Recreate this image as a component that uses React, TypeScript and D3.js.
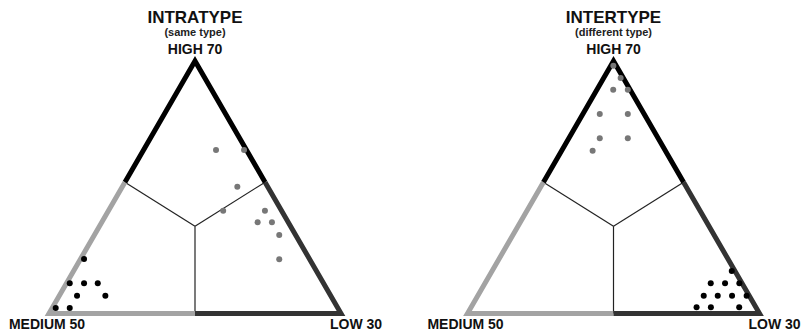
import React from 'react';
import * as d3 from 'd3';

// Panel titles and vertex labels
const panelTitles = ['INTRATYPE', 'INTERTYPE'];
const panelSubtitles = ['(same type)', '(different type)'];
const vertexLabels = ['HIGH 70', 'MEDIUM 50', 'LOW 30'];

// Ternary compositions as [high, medium, low] percentages
const intraGray: number[][] = [
  [64.8, 10.4, 24.8],
  [64.8, 0.8, 34.4],
  [50.2, 10.4, 39.4],
  [40.7, 20.0, 39.3],
  [40.7, 5.7, 53.6],
  [36.1, 10.5, 53.4],
  [36.1, 5.6, 58.3],
  [31.1, 5.6, 63.3],
  [21.5, 10.4, 68.1],
];
const intraBlack: number[][] = [
  [21.6, 77.2, 1.2],
  [12.0, 86.9, 1.1],
  [12.0, 82.0, 6.0],
  [12.0, 77.3, 10.7],
  [7.0, 86.9, 6.1],
  [7.0, 77.2, 15.8],
  [2.2, 96.6, 1.2],
  [2.2, 91.8, 6.0],
];
const interGray: number[][] = [
  [98.1, 1.0, 0.9],
  [93.3, 0.9, 5.8],
  [88.6, 5.8, 5.6],
  [88.6, 0.8, 10.6],
  [79.0, 15.2, 5.8],
  [79.0, 5.6, 15.4],
  [69.4, 20.0, 10.6],
  [69.4, 10.4, 20.2],
  [64.5, 24.9, 10.6],
];
const interBlack: number[][] = [
  [16.8, 1.1, 82.1],
  [12.0, 10.7, 77.3],
  [12.0, 5.8, 82.2],
  [12.0, 0.9, 87.1],
  [7.0, 15.6, 77.4],
  [7.0, 10.8, 82.2],
  [7.0, 5.9, 87.1],
  [7.0, 0.9, 92.1],
  [2.5, 20.3, 77.2],
  [2.5, 15.4, 82.1],
  [2.5, 5.7, 91.8],
];

// Region boundaries: meeting point and edge junctions [high, medium, low]
const centerPoint = [34.6, 32.7, 32.7];
const edgeJunctions = [
  [52, 48, 0],
  [0, 50, 50],
  [52, 0, 48],
];

const W = 802;
const H = 334;
const panelCenters = [195, 613.5];
const halfWidth = 146;
const baseY = 313.5;
const apexY = 61;

const HIGH_COLOR = '#000000';
const MED_COLOR = '#a3a3a3';
const LOW_COLOR = '#333333';

function Panel({ idx, gray, black }: { idx: number; gray: number[][]; black: number[][] }) {
  const cx = panelCenters[idx];
  const x = d3.scaleLinear().domain([0, 100]).range([cx - halfWidth, cx + halfWidth]);
  const y = d3.scaleLinear().domain([0, 100]).range([baseY, apexY]);
  const proj = (p: number[]): [number, number] => [x(p[2] + p[0] / 2), y(p[0])];
  const line = d3.line();

  const apex = proj([100, 0, 0]);
  const med = proj([0, 100, 0]);
  const low = proj([0, 0, 100]);
  const [jLeft, jBottom, jRight] = edgeJunctions.map(proj);
  const c = proj(centerPoint);

  const font = 'Liberation Sans, Arial, Helvetica, sans-serif';

  return (
    <g>
      <text x={cx} y={22.5} textAnchor="middle" fontFamily={font} fontWeight="bold" fontSize={17} fill="#111">
        {panelTitles[idx]}
      </text>
      <text x={cx} y={35.5} textAnchor="middle" fontFamily={font} fontWeight="bold" fontSize={11} fill="#222">
        {panelSubtitles[idx]}
      </text>
      <text x={cx} y={53.5} textAnchor="middle" fontFamily={font} fontWeight="bold" fontSize={14} fill="#111">
        {vertexLabels[0]}
      </text>
      <text x={med[0] - 2} y={328.5} textAnchor="middle" fontFamily={font} fontWeight="bold" fontSize={14} fill="#111">
        {vertexLabels[1]}
      </text>
      <text x={low[0] - 11} y={328.5} textAnchor="start" fontFamily={font} fontWeight="bold" fontSize={14} fill="#111">
        {vertexLabels[2]}
      </text>

      {/* inner region boundaries */}
      {[jLeft, jBottom, jRight].map((j, i) => (
        <path key={i} d={line([c, j]) || ''} stroke="#222" strokeWidth={1.2} fill="none" />
      ))}

      {/* triangle edges by region */}
      <path d={line([jLeft, apex, jRight]) || ''} stroke={HIGH_COLOR} strokeWidth={5} fill="none" strokeLinejoin="miter" />
      <path d={line([jLeft, med, jBottom]) || ''} stroke={MED_COLOR} strokeWidth={5} fill="none" strokeLinejoin="miter" />
      <path d={line([jBottom, low, jRight]) || ''} stroke={LOW_COLOR} strokeWidth={5} fill="none" strokeLinejoin="miter" />

      {gray.map((p, i) => {
        const [px, py] = proj(p);
        return <circle key={'g' + i} cx={px} cy={py} r={3} fill="#777" />;
      })}
      {black.map((p, i) => {
        const [px, py] = proj(p);
        return <circle key={'b' + i} cx={px} cy={py} r={3} fill="#000" />;
      })}
    </g>
  );
}

export default function App() {
  return (
    <svg width={W} height={H} style={{ position: 'absolute', left: 0, top: 0, background: '#fff' }}>
      <rect width={W} height={H} fill="#fff" />
      <Panel idx={0} gray={intraGray} black={intraBlack} />
      <Panel idx={1} gray={interGray} black={interBlack} />
    </svg>
  );
}
